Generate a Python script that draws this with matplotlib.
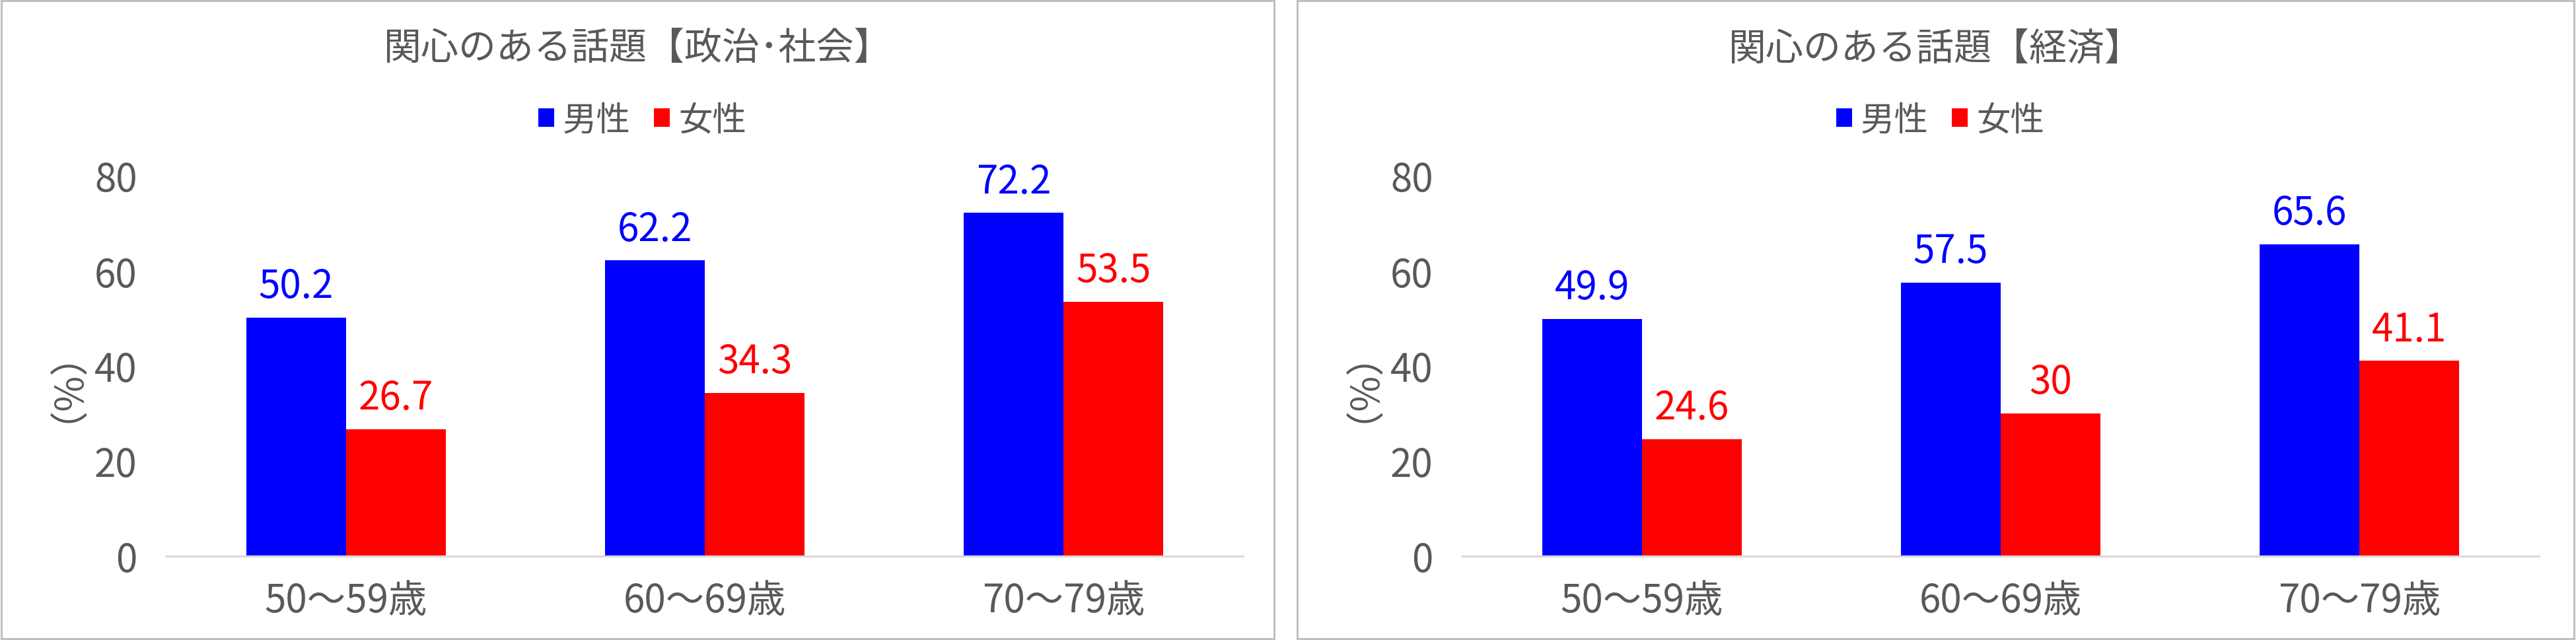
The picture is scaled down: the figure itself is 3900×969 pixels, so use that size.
# 関心のある話題 chart: two panels of grouped bars (men vs women by age group)

import matplotlib
matplotlib.use("Agg")
import matplotlib.pyplot as plt
import matplotlib.patches as mpatches
import numpy as np

plt.rcParams['font.family'] = ['Noto Sans CJK JP', 'DejaVu Sans']

# Data
age_groups = ['50～59歳', '60～69歳', '70～79歳']
series_names = ['男性', '女性']
politics_male = [50.2, 62.2, 72.2]
politics_female = [26.7, 34.3, 53.5]
economy_male = [49.9, 57.5, 65.6]
economy_female = [24.6, 30, 41.1]
panel_titles = ['関心のある話題【政治･社会】', '関心のある話題【経済】']
y_ticks = [0, 20, 40, 60, 80]
y_label = '（%）'

# Style
MALE_COLOR = '#0000FF'
FEMALE_COLOR = '#FF0000'
TEXT_COLOR = '#595959'
AXIS_COLOR = '#D9D9D9'
BORDER_COLOR = '#BFBFBF'
W, H = 3900, 970


def fmt(v):
    """Excel-style label: 30 stays 30, 24.6 stays 24.6."""
    return f'{v:g}'


def draw_panel(fig, ax_rect, panel_px, title, male, female):
    """
    Draw one bordered panel with title, legend and grouped bars.
    """
    x0, x1 = panel_px
    cx = (x0 + x1) / 2

    # Panel border
    fig.patches.append(mpatches.Rectangle(
        (x0 / W, 2 / H), (x1 - x0) / W, (H - 4) / H,
        transform=fig.transFigure, fill=False,
        edgecolor=BORDER_COLOR, linewidth=2.2))

    # Title
    fig.text(cx / W, 1 - 74 / H, title, ha='center', va='center',
             fontsize=41, color=TEXT_COLOR)

    ax = fig.add_axes(ax_rect)
    x = np.arange(len(age_groups))
    width = 0.278
    bars_m = ax.bar(x - width / 2, male, width, color=MALE_COLOR, label=series_names[0])
    bars_f = ax.bar(x + width / 2, female, width, color=FEMALE_COLOR, label=series_names[1])

    # Value labels
    for bars, color in ((bars_m, MALE_COLOR), (bars_f, FEMALE_COLOR)):
        for b in bars:
            ax.annotate(fmt(b.get_height()),
                        (b.get_x() + b.get_width() / 2, b.get_height()),
                        xytext=(0, 22), textcoords='offset points',
                        ha='center', va='baseline', fontsize=42, color=color)

    ax.set_xlim(-0.5, len(age_groups) - 0.5)
    ax.set_ylim(0, 80)
    ax.set_yticks(y_ticks)
    ax.set_xticks(x)
    ax.set_xticklabels(age_groups)
    ax.tick_params(axis='both', length=0, labelsize=42, labelcolor=TEXT_COLOR)
    ax.tick_params(axis='y', pad=32)
    ax.tick_params(axis='x', pad=27)
    for side in ('top', 'right', 'left'):
        ax.spines[side].set_visible(False)
    ax.spines['bottom'].set_color(AXIS_COLOR)
    ax.spines['bottom'].set_linewidth(2.2)

    # Y axis label, rotated
    fig.text((x0 + 68) / W, 1 - 555 / H, y_label, rotation=90,
             ha='center', va='center', fontsize=42, color=TEXT_COLOR)

    # Legend
    ax.legend(loc='center', bbox_to_anchor=((cx + 7) / W, 1 - 183 / H),
              bbox_transform=fig.transFigure, ncol=2, frameon=False,
              fontsize=37, labelcolor=TEXT_COLOR,
              handlelength=0.46, handleheight=0.46,
              handletextpad=0.26, columnspacing=0.68, borderpad=0)
    return ax


def main():
    fig = plt.figure(figsize=(W / 100, H / 100), dpi=100)

    ax_bottom = 127 / H
    ax_height = 576 / H
    ax_width = 1630 / W

    draw_panel(fig, [252 / W, ax_bottom, ax_width, ax_height], (2, 1929),
               panel_titles[0], politics_male, politics_female)
    draw_panel(fig, [2214 / W, ax_bottom, ax_width, ax_height], (1964, 3897),
               panel_titles[1], economy_male, economy_female)

    fig.savefig('out.png', dpi=100, facecolor='white')


if __name__ == "__main__":
    main()
